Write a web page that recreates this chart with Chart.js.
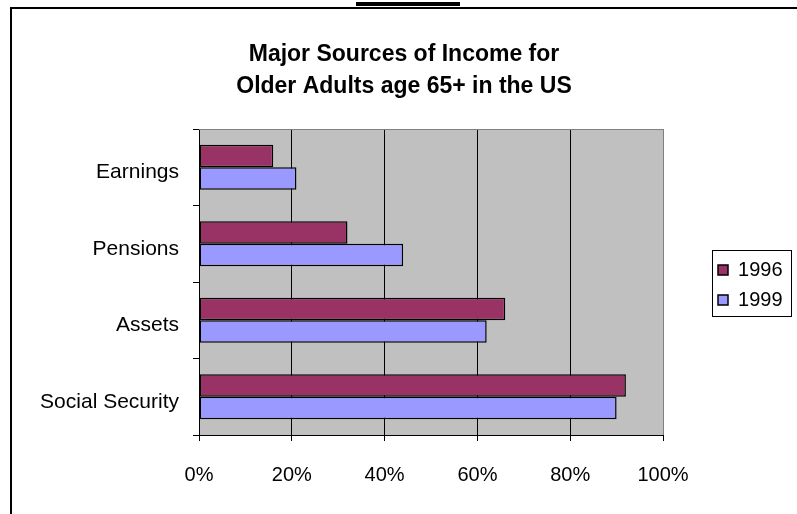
<!DOCTYPE html>
<html>
<head>
<meta charset="utf-8">
<script src="https://cdn.jsdelivr.net/npm/chart.js@4.4.0/dist/chart.umd.min.js"></script>
<style>
    html, body { margin: 0; padding: 0; background: #fff; }
</style>
</head>
<body>
<canvas id="incomeChart" width="797" height="514"></canvas>
<script>
const categories = ["Earnings", "Pensions", "Assets", "Social Security"];
const seriesNames = ["1996", "1999"];
const values1996 = [16, 32, 66, 92];
const values1999 = [21, 44, 62, 90];
const xTickValues = [0, 20, 40, 60, 80, 100];
const titleLines = ["Major Sources of Income for", "Older Adults age 65+ in the US"];

Chart.defaults.font.family = "'Liberation Sans', Arial, sans-serif";
Chart.defaults.color = "#000";

/* Excel-like frame, grey plot area and legend box */
const excelLook = {
    id: "excelLook",
    beforeDraw(chart) {
        const { ctx, chartArea } = chart;
        ctx.save();
        ctx.fillStyle = "#c0c0c0";
        ctx.fillRect(chartArea.left, chartArea.top, chartArea.right - chartArea.left, chartArea.bottom - chartArea.top);
        ctx.fillStyle = "#000";
        ctx.fillRect(10, 7, 787, 2);
        ctx.fillRect(10, 7, 2, 507);
        ctx.fillRect(356, 2, 104, 4);
        ctx.restore();
    },
    afterLayout(chart) {
        // legend sits a bit away from the plot, title centred on the whole frame
        const legend = chart.legend;
        const dx = 45, dy = 3;
        legend.left += dx;
        legend.right += dx;
        legend.top += dy;
        legend.bottom += dy;
        const title = chart.titleBlock;
        title.left = 0;
        title.right = 808;
        title.width = 808;
    },
    afterDraw(chart) {
        const { ctx, chartArea, legend } = chart;
        ctx.save();
        ctx.strokeStyle = "#808080";
        ctx.lineWidth = 1;
        ctx.beginPath();
        ctx.moveTo(chartArea.left, chartArea.top + 0.5);
        ctx.lineTo(chartArea.right, chartArea.top + 0.5);
        ctx.stroke();

        const hb = legend.legendHitBoxes;
        if (hb && hb.length) {
            const first = hb[0];
            const last = hb[hb.length - 1];
            ctx.strokeStyle = "#000";
            ctx.strokeRect(Math.round(first.left - 6) + 0.5, Math.round(first.top - 10) + 0.5, 79, last.top + last.height - first.top + 16);
        }
        ctx.restore();
    }
};

const ctx = document.getElementById("incomeChart").getContext("2d");

new Chart(ctx, {
    type: "bar",
    data: {
        labels: categories,
        datasets: [
            {
                label: seriesNames[0],
                data: values1996,
                backgroundColor: "#993366",
                borderColor: "#000",
                borderWidth: 1.5,
                borderSkipped: false,
                categoryPercentage: 0.59,
                barPercentage: 1,
            },
            {
                label: seriesNames[1],
                data: values1999,
                backgroundColor: "#9999ff",
                borderColor: "#000",
                borderWidth: 1.5,
                borderSkipped: false,
                categoryPercentage: 0.59,
                barPercentage: 1,
            },
        ],
    },
    options: {
        indexAxis: "y",
        responsive: false,
        animation: false,
        layout: { padding: { left: 0, right: 49.5, top: 0, bottom: 0 } },
        scales: {
            x: {
                type: "linear",
                min: 0,
                max: 100,
                afterBuildTicks: (scale) => {
                    scale.ticks = xTickValues.map((v) => ({ value: v }));
                },
                afterFit: (scale) => {
                    scale.height = 79;
                },
                ticks: {
                    callback: (v) => v + "%",
                    padding: 22,
                    font: { size: 20 },
                    color: "#000",
                    maxRotation: 0,
                },
                grid: {
                    color: (c) => (c.tick && c.tick.value === 100 ? "#808080" : "#000"),
                    lineWidth: 1,
                    tickLength: 6,
                    tickColor: "#000",
                },
                border: { display: true, color: "#000", width: 1 },
            },
            y: {
                type: "category",
                afterFit: (scale) => {
                    scale.width = 199;
                },
                ticks: {
                    padding: 14,
                    font: { size: 21 },
                    color: "#000",
                    labelOffset: 5,
                },
                grid: {
                    offset: true,
                    drawOnChartArea: false,
                    tickLength: 6,
                    tickColor: "#000",
                },
                border: { display: true, color: "#000", width: 1 },
            },
        },
        plugins: {
            title: {
                display: true,
                text: titleLines,
                color: "#000",
                font: { size: 23, weight: "bold", lineHeight: 1.37 },
                padding: { top: 39, bottom: 27 },
            },
            legend: {
                display: true,
                position: "right",
                fullSize: false,
                labels: {
                    boxWidth: 10,
                    boxHeight: 10,
                    padding: 10,
                    color: "#000",
                    font: { size: 20 },
                },
            },
            tooltip: { enabled: false },
        },
    },
    plugins: [excelLook],
});
</script>
</body>
</html>
